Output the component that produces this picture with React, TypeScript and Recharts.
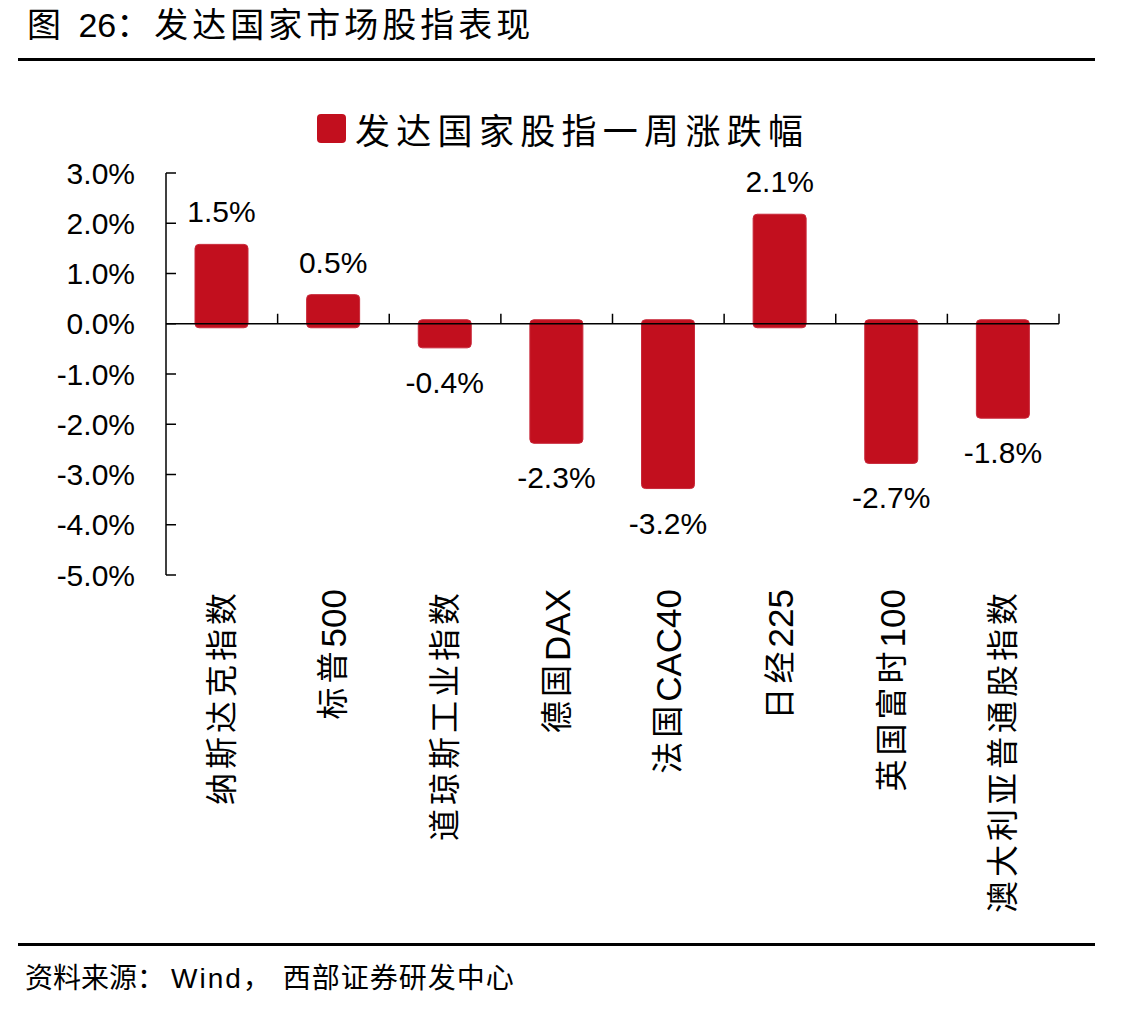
import { Bar, BarChart, LabelList, Rectangle, ReferenceLine, XAxis, YAxis } from "recharts";

// 一周涨跌幅（%）
const indices = [
  "纳斯达克指数",
  "标普500",
  "道琼斯工业指数",
  "德国DAX",
  "法国CAC40",
  "日经225",
  "英国富时100",
  "澳大利亚普通股指数",
];
const weeklyChange = [1.5, 0.5, -0.4, -2.3, -3.2, 2.1, -2.7, -1.8];
const yTicks = [-5, -4, -3, -2, -1, 0, 1, 2, 3];

const RED = "#C20F1E";
const FONT = '"Liberation Sans", Arial, "Noto Sans CJK SC", sans-serif';

const rows = indices.map((name, i) => ({ name, value: weeklyChange[i] }));

const pct = (v: number) => `${v.toFixed(1)}%`;

// 柱子两端各多出一点，与原图样式一致
const PAD = 4;

function RoundBar(props: any) {
  const { x, y, width, height } = props;
  const top = Math.min(y, y + height);
  const h = Math.abs(height);
  return (
    <Rectangle x={x} y={top - PAD} width={width} height={h + PAD * 2} radius={4} fill={RED} stroke="#c8283a" strokeWidth={1} />
  );
}

// 零轴 + 类目分隔刻度（向上）
function ZeroAxis(props: any) {
  const { x1, y1, x2 } = props;
  const step = (x2 - x1) / indices.length;
  return (
    <g>
      <line x1={x1} y1={y1} x2={x2} y2={y1} stroke="#000" strokeWidth={1.5} />
      {indices.map((_, i) => {
        const x = x1 + step * (i + 1);
        return <line key={i} x1={x} x2={x} y1={y1} y2={y1 - 10} stroke="#000" strokeWidth={1.5} />;
      })}
    </g>
  );
}

// 中文与字母数字分段，字母数字不加字距
function splitRuns(s: string) {
  return s.match(/[A-Za-z0-9]+|[^A-Za-z0-9]+/g) ?? [s];
}

function CategoryTick({ x, y, payload }: any) {
  const runs = splitRuns(String(payload.value));
  return (
    <text
      x={x}
      y={y}
      transform={`rotate(-90, ${x}, ${y})`}
      textAnchor="end"
      dominantBaseline="central"
      fontFamily={FONT}
      fill="#000"
    >
      {runs.map((r, i) =>
        /[A-Za-z0-9]/.test(r) ? (
          <tspan key={i} fontSize={35} letterSpacing={0}>
            {r}
          </tspan>
        ) : (
          <tspan key={i} fontSize={32} letterSpacing={4}>
            {r}
          </tspan>
        )
      )}
    </text>
  );
}

function ValueLabel(props: any) {
  const { x, y, width, height, value } = props;
  const top = Math.min(y, y + height) - PAD;
  const bottom = Math.max(y, y + height) + PAD;
  const cx = x + width / 2;
  const ty = value >= 0 ? top - 22 : bottom + 45;
  return (
    <text x={cx} y={ty} textAnchor="middle" fontSize={30} fontFamily={FONT} fill="#000">
      {pct(value)}
    </text>
  );
}

export default function App() {
  return (
    <div style={{ position: "relative", width: 1144, height: 1011, background: "#fff", fontFamily: FONT }}>
      <style>{`body{margin:0}`}</style>
      <div style={{ position: "absolute", left: 27, top: 8, fontSize: 34, lineHeight: 1, color: "#000", whiteSpace: "nowrap" }}>
        <span style={{ letterSpacing: 4 }}>图 </span>
        <span>26</span>
        <span style={{ letterSpacing: 4 }}>：发达国家市场股指表现</span>
      </div>
      <div style={{ position: "absolute", left: 18, top: 58, width: 1077, height: 2.5, background: "#000" }} />

      <div style={{ position: "absolute", left: 317, top: 103, display: "flex", alignItems: "center" }}>
        <span style={{ width: 29, height: 29, borderRadius: 4, background: RED, display: "inline-block" }} />
        <span style={{ marginLeft: 9, fontSize: 35, letterSpacing: 6.3, color: "#000" }}>发达国家股指一周涨跌幅</span>
      </div>

      <div style={{ position: "absolute", left: 0, top: 0 }}>
        <BarChart width={1144} height={940} data={rows} margin={{ top: 173, right: 85, bottom: 25, left: 66 }}>
          <XAxis
            dataKey="name"
            height={340}
            axisLine={false}
            tickLine={false}
            tickSize={0}
            tickMargin={14}
            interval={0}
            tick={<CategoryTick />}
          />
          <YAxis
            width={100}
            domain={[-5, 3]}
            ticks={yTicks}
            tickFormatter={pct}
            axisLine={{ stroke: "#000", strokeWidth: 1.5 }}
            tickLine={{ stroke: "#000", strokeWidth: 1.5 }}
            tickSize={-10}
            tickMargin={41}
            tick={{ fontSize: 30, fill: "#000", fontFamily: FONT }}
          />
          <ReferenceLine y={0} shape={<ZeroAxis />} />
          <Bar dataKey="value" fill={RED} barSize={53} shape={<RoundBar />} isAnimationActive={false}>
            <LabelList dataKey="value" content={<ValueLabel />} />
          </Bar>
        </BarChart>
      </div>

      <div style={{ position: "absolute", left: 18, top: 943, width: 1077, height: 2.5, background: "#000" }} />
      <div style={{ position: "absolute", left: 25, top: 965, fontSize: 28, lineHeight: 1, color: "#000", whiteSpace: "nowrap" }}>
        <span>资料来源：</span>
        <span style={{ marginLeft: 6, letterSpacing: 2 }}>Wind</span>
        <span style={{ letterSpacing: 12 }}>，</span>
        <span style={{ letterSpacing: 1 }}>西部证券研发中心</span>
      </div>
    </div>
  );
}
